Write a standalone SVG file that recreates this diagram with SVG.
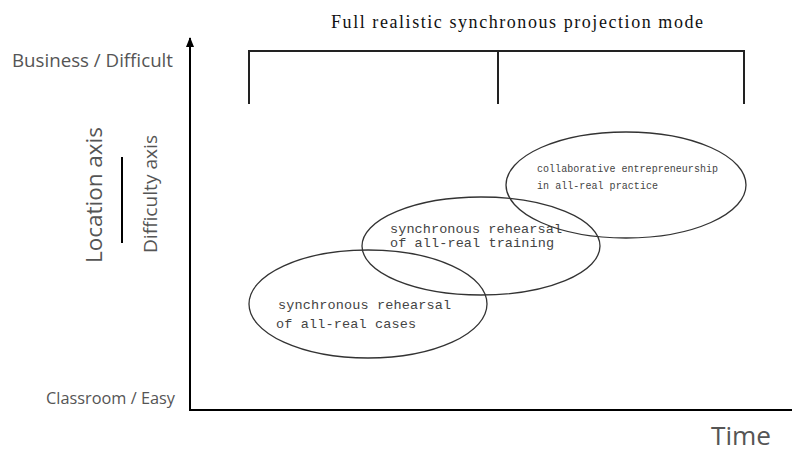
<svg xmlns="http://www.w3.org/2000/svg" width="792" height="451" viewBox="0 0 792 451">
<style>
.ax{stroke:#000;stroke-width:2;fill:none}
.br{stroke:#222;stroke-width:2;fill:none}
.el{stroke:#333;stroke-width:1.3;fill:none}
.sans{font-family:"Open Sans","Noto Sans","Liberation Sans",sans-serif;fill:#555}
.mono{font-family:"Liberation Mono","DejaVu Sans Mono",monospace;fill:#444}
.title{font-family:"Liberation Serif","Times New Roman",serif;fill:#111;font-size:18px}
</style>
<defs>
<marker id="arr" markerWidth="10" markerHeight="8" refX="9" refY="4" orient="auto" markerUnits="userSpaceOnUse" viewBox="0 0 10 8">
<path d="M0,0 L10,4 L0,8 Z" fill="#000"/>
</marker>
</defs>
<rect width="792" height="451" fill="#fff"/>
<g id="axes">
<line class="ax" x1="190" y1="410" x2="190" y2="38" marker-end="url(#arr)"/>
<line class="ax" x1="189" y1="410" x2="792" y2="410"/>
<line x1="122" y1="157" x2="122" y2="243" stroke="#000" stroke-width="2"/>
</g>
<g id="bracket">
<path class="br" d="M249,104 V51 H744 V104 M498,51 V104"/>
<text class="title" x="517" y="28" text-anchor="middle" textLength="372">Full realistic synchronous projection mode</text>
</g>
<g id="labels">
<text class="sans" x="12" y="67" font-size="17.5" textLength="161" lengthAdjust="spacingAndGlyphs">Business / Difficult</text>
<text class="sans" x="46" y="404" font-size="16" textLength="129" lengthAdjust="spacingAndGlyphs">Classroom / Easy</text>
<text class="sans" x="711" y="445" font-size="25" textLength="60" lengthAdjust="spacingAndGlyphs">Time</text>
<text class="sans" transform="translate(102,195) rotate(-90)" x="0" y="0" font-size="21" text-anchor="middle" textLength="136" lengthAdjust="spacingAndGlyphs">Location axis</text>
<text class="sans" transform="translate(157,194) rotate(-90)" x="0" y="0" font-size="17.5" text-anchor="middle" textLength="118" lengthAdjust="spacingAndGlyphs">Difficulty axis</text>
</g>
<g id="node1">
<ellipse class="el" cx="368" cy="304" rx="119" ry="54"/>
<text class="mono" x="278" y="309" font-size="13.5" textLength="173">synchronous rehearsal</text>
<text class="mono" x="276" y="328" font-size="13.5" textLength="140">of all-real cases</text>
</g>
<g id="node2">
<ellipse class="el" cx="481" cy="246" rx="119" ry="49"/>
<text class="mono" x="390" y="233" font-size="13.5" textLength="172">synchronous rehearsal</text>
<text class="mono" x="390" y="247" font-size="13.5" textLength="164">of all-real training</text>
</g>
<g id="node3">
<ellipse class="el" cx="626" cy="185" rx="120" ry="53"/>
<text class="mono" x="537" y="172" font-size="10" textLength="181">collaborative entrepreneurship</text>
<text class="mono" x="537" y="189" font-size="10" textLength="121">in all-real practice</text>
</g>
</svg>
